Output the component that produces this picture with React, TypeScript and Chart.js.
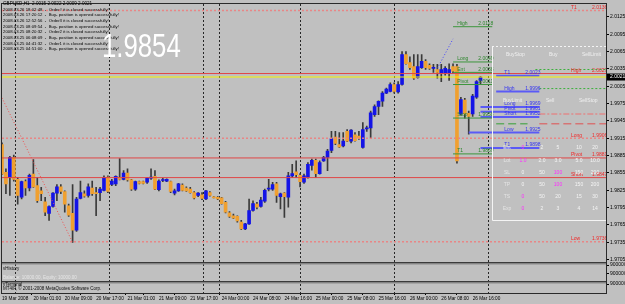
import { useEffect, useRef } from 'react';
import { Chart, registerables } from 'chart.js';

Chart.register(...registerables);
Chart.defaults.font.family = '"Liberation Sans", Arial, sans-serif';

const BG = '#c0c0c0';
const BULL = '#1414e6';
const BEAR = '#f0a030';
const WICK = '#3a3a3a';

// ---------- data ----------
const slotCount = 155; // hourly slots on the x axis (0..154)
const timeLabels = [
  '19 Mar 2008', '20 Mar 01:00', '20 Mar 09:00', '20 Mar 17:00', '21 Mar 01:00', '21 Mar 09:00',
  '21 Mar 17:00', '24 Mar 00:00', '24 Mar 08:00', '24 Mar 16:00', '25 Mar 00:00', '25 Mar 08:00',
  '25 Mar 16:00', '26 Mar 00:00', '26 Mar 08:00', '26 Mar 16:00',
];
const labelEvery = 8;
const daySeparators = [7, 31, 55, 56, 80, 104, 128];
const priceTicks = [2.0125, 2.0095, 2.0065, 2.0035, 2.0005, 1.9975, 1.9945, 1.9915, 1.9885, 1.9855, 1.9825, 1.9795, 1.9765, 1.9735, 1.9705];
const priceMin = 1.96989;
const priceMax = 2.01473;

const opens = [
  1.9904, 1.9856, 1.9847, 1.9882, 1.9844, 1.9813, 1.9840, 1.9829, 1.9853, 1.9833,
  1.9824, 1.9805, 1.9785, 1.9797, 1.9820, 1.9831, 1.9823, 1.9798, 1.9785, 1.9756,
  1.9811, 1.9819, 1.9816, 1.9829, 1.9821, 1.9821, 1.9825, 1.9848, 1.9835, 1.9836,
  1.9847, 1.9844, 1.9855, 1.9843, 1.9827, 1.9840, 1.9840, 1.9839, 1.9846, 1.9849,
  1.9826, 1.9842, 1.9841, 1.9840, 1.9820, 1.9824, 1.9834, 1.9829, 1.9827, 1.9821,
  1.9816, 1.9817, 1.9810, 1.9821, 1.9813, 1.9813, 1.9812, 1.9804, 1.9786, 1.9781,
  1.9780, 1.9770, 1.9758, 1.9767, 1.9790, 1.9801, 1.9797, 1.9806, 1.9827, 1.9827,
  1.9836, 1.9814, 1.9820, 1.9813, 1.9850, 1.9857, 1.9851, 1.9839, 1.9847, 1.9868,
  1.9877, 1.9854, 1.9876, 1.9882, 1.9894, 1.9917, 1.9904, 1.9902, 1.9927, 1.9910,
  1.9921, 1.9919, 1.9899, 1.9931, 1.9933, 1.9956, 1.9970, 1.9979, 1.9993, 1.9996,
  2.0008, 1.9995, 2.0008, 2.0060, 2.0046, 2.0039, 2.0020, 2.0037, 2.0048, 2.0041,
  2.0036, 2.0034, 2.0027, 2.0027, 2.0027, 2.0039, 2.0039, 1.9957, 1.9981, 1.9958,
  1.9957, 1.9986, 2.0015,
];
const highs = [
  1.9907, 1.9862, 1.9884, 1.9886, 1.9847, 1.9841, 1.9843, 1.9853, 1.9878, 1.9847,
  1.9830, 1.9813, 1.9798, 1.9821, 1.9835, 1.9835, 1.9824, 1.9801, 1.9835, 1.9813,
  1.9841, 1.9824, 1.9836, 1.9841, 1.9830, 1.9830, 1.9850, 1.9850, 1.9844, 1.9850,
  1.9880, 1.9859, 1.9862, 1.9844, 1.9841, 1.9841, 1.9841, 1.9847, 1.9862, 1.9859,
  1.9843, 1.9846, 1.9845, 1.9841, 1.9827, 1.9837, 1.9836, 1.9831, 1.9830, 1.9823,
  1.9821, 1.9821, 1.9825, 1.9823, 1.9814, 1.9814, 1.9813, 1.9806, 1.9788, 1.9784,
  1.9781, 1.9773, 1.9768, 1.9810, 1.9807, 1.9804, 1.9813, 1.9827, 1.9844, 1.9839,
  1.9839, 1.9820, 1.9821, 1.9856, 1.9870, 1.9876, 1.9854, 1.9853, 1.9873, 1.9879,
  1.9879, 1.9876, 1.9884, 1.9896, 1.9927, 1.9927, 1.9925, 1.9925, 1.9930, 1.9930,
  1.9925, 1.9927, 1.9942, 1.9936, 1.9962, 1.9973, 1.9980, 1.9996, 2.0002, 2.0011,
  2.0011, 2.0013, 2.0065, 2.0065, 2.0056, 2.0060, 2.0060, 2.0060, 2.0051, 2.0044,
  2.0043, 2.0043, 2.0043, 2.0039, 2.0044, 2.0044, 2.0043, 1.9986, 1.9984, 1.9962,
  1.9991, 2.0015, 2.0022,
];
const lows = [
  1.9852, 1.9819, 1.9816, 1.9841, 1.9801, 1.9810, 1.9816, 1.9824, 1.9830, 1.9804,
  1.9807, 1.9781, 1.9773, 1.9796, 1.9807, 1.9819, 1.9787, 1.9780, 1.9735, 1.9754,
  1.9810, 1.9813, 1.9813, 1.9816, 1.9781, 1.9807, 1.9824, 1.9821, 1.9833, 1.9833,
  1.9843, 1.9843, 1.9841, 1.9825, 1.9825, 1.9836, 1.9836, 1.9837, 1.9844, 1.9826,
  1.9824, 1.9840, 1.9840, 1.9821, 1.9817, 1.9823, 1.9824, 1.9823, 1.9820, 1.9810,
  1.9814, 1.9809, 1.9809, 1.9815, 1.9812, 1.9809, 1.9801, 1.9786, 1.9778, 1.9776,
  1.9770, 1.9757, 1.9757, 1.9766, 1.9789, 1.9793, 1.9796, 1.9804, 1.9824, 1.9825,
  1.9804, 1.9793, 1.9778, 1.9796, 1.9847, 1.9847, 1.9831, 1.9837, 1.9846, 1.9860,
  1.9847, 1.9853, 1.9875, 1.9859, 1.9890, 1.9904, 1.9899, 1.9900, 1.9909, 1.9907,
  1.9910, 1.9913, 1.9898, 1.9927, 1.9915, 1.9953, 1.9956, 1.9970, 1.9992, 1.9995,
  1.9993, 1.9993, 2.0007, 2.0043, 2.0034, 2.0017, 2.0019, 2.0036, 2.0034, 2.0034,
  2.0029, 2.0019, 2.0013, 2.0024, 2.0015, 2.0027, 1.9872, 1.9955, 1.9950, 1.9922,
  1.9953, 1.9984, 2.0009,
];
const closes = [
  1.9853, 1.9836, 1.9882, 1.9844, 1.9816, 1.9840, 1.9829, 1.9851, 1.9831, 1.9807,
  1.9819, 1.9787, 1.9797, 1.9820, 1.9831, 1.9823, 1.9801, 1.9782, 1.9756, 1.9810,
  1.9821, 1.9815, 1.9831, 1.9819, 1.9819, 1.9827, 1.9847, 1.9823, 1.9841, 1.9849,
  1.9844, 1.9855, 1.9843, 1.9827, 1.9840, 1.9837, 1.9837, 1.9846, 1.9848, 1.9827,
  1.9841, 1.9843, 1.9844, 1.9823, 1.9824, 1.9836, 1.9825, 1.9824, 1.9821, 1.9812,
  1.9820, 1.9811, 1.9824, 1.9816, 1.9812, 1.9810, 1.9802, 1.9787, 1.9780, 1.9777,
  1.9772, 1.9758, 1.9767, 1.9790, 1.9802, 1.9796, 1.9808, 1.9825, 1.9828, 1.9835,
  1.9816, 1.9819, 1.9814, 1.9850, 1.9854, 1.9852, 1.9840, 1.9850, 1.9870, 1.9877,
  1.9854, 1.9873, 1.9882, 1.9893, 1.9914, 1.9906, 1.9900, 1.9910, 1.9910, 1.9929,
  1.9911, 1.9915, 1.9930, 1.9933, 1.9959, 1.9970, 1.9979, 1.9993, 2.0000, 2.0008,
  1.9996, 2.0008, 2.0060, 2.0044, 2.0037, 2.0019, 2.0039, 2.0048, 2.0037, 2.0036,
  2.0037, 2.0029, 2.0034, 2.0036, 2.0034, 2.0031, 1.9876, 1.9982, 1.9957, 1.9953,
  1.9988, 2.0013, 2.0021,
];
const bidPrice = 2.0021;

type Level = { name: string; text: string; price: number; from: number; to: number; kind: string };
const mainLevels: Level[] = [
  { name: 'T1', text: '2.0136', price: 2.0136, from: 0, to: 154, kind: 'redDot' },
  { name: 'High', text: '2.0027', price: 2.0027, from: 0, to: 154, kind: 'red' },
  { name: '', text: '', price: bidPrice, from: 0, to: 154, kind: 'bid' },
  { name: 'Long', text: '1.9906', price: 1.9915, from: 0, to: 154, kind: 'redDot' },
  { name: 'Pivot', text: '1.9881', price: 1.9881, from: 0, to: 154, kind: 'red' },
  { name: 'Short', text: '1.9847', price: 1.9847, from: 0, to: 154, kind: 'red' },
  { name: 'Low', text: '1.9736', price: 1.9736, from: 0, to: 154, kind: 'redDot' },
];
const greenLevels: Level[] = [
  { name: 'High', text: '2.0118', price: 2.0108, from: 115, to: 125, kind: 'green' },
  { name: 'Long', text: '2.0049', price: 2.0047, from: 115, to: 125, kind: 'green' },
  { name: 'Ent', text: '2.0038', price: 2.0029, from: 115, to: 125, kind: 'green' },
  { name: 'Pivot', text: '2.0011', price: 2.0008, from: 115, to: 125, kind: 'green' },
  { name: 'Stop', text: '1.9958', price: 1.9950, from: 115, to: 125, kind: 'green' },
  { name: 'T1', text: '1.9869', price: 1.9888, from: 115, to: 125, kind: 'green' },
];
const blueLevels: Level[] = [
  { name: 'T1', text: '2.0023', price: 2.0023, from: 126, to: 137, kind: 'blue' },
  { name: 'High', text: '1.9996', price: 1.9996, from: 126, to: 137, kind: 'blue' },
  { name: 'Long', text: '1.9969', price: 1.9969, from: 122, to: 137, kind: 'blue' },
  { name: 'Pivot', text: '1.9961', price: 1.9961, from: 122, to: 137, kind: 'blue' },
  { name: 'Short', text: '1.9952', price: 1.9952, from: 122, to: 137, kind: 'blue' },
  { name: 'Low', text: '1.9925', price: 1.9925, from: 119, to: 137, kind: 'blue' },
  { name: 'T1', text: '1.9898', price: 1.9898, from: 122, to: 137, kind: 'blue' },
];
const panelLevels: Level[] = [
  { name: '', text: '', price: 2.0034, from: 136, to: 154, kind: 'greenDot' },
  { name: '', text: '', price: 2.0001, from: 137, to: 154, kind: 'greenDot' },
  { name: '', text: '', price: 1.9957, from: 137, to: 154, kind: 'pinkDashDot' },
  { name: '', text: '', price: 1.9940, from: 137, to: 154, kind: 'redDash' },
  { name: '', text: '', price: 1.9940, from: 126, to: 134, kind: 'greenDash' },
];
const tradeLines = [
  { from: 0, fromPrice: 1.9985, to: 18, toPrice: 1.9735, kind: 'redTrade' },
  { from: 111, fromPrice: 2.0036, to: 115, toPrice: 2.0087, kind: 'blueTrade' },
];

const titleText = 'GBPUSD,H1  2.0015 2.0022 2.0009 2.0021';
const logLines = [
  '2008.03.26 18:02:48  -  Order# it is closed successfully!',
  '2008.03.26 17:20:12  -  Buy- position is opened successfully!',
  '2008.03.26 12:52:56  -  Order3 it is closed successfully!',
  '2008.03.25 08:09:54  -  Buy- position is opened successfully!',
  '2008.03.25 08:20:32  -  Order2 it is closed successfully!',
  '2008.03.25 06:08:09  -  Buy- position is opened successfully!',
  '2008.03.25 04:41:32  -  Order1 it is closed successfully!',
  '2008.03.25 04:51:00  -  Buy- position is opened successfully!',
];
const bigLabel = '1.9854';
const panelHeaderTop = ['BuyStop', 'Buy', 'SellLimit'];
const panelHeaderMid = ['BuyLimit', 'Sell', 'SellStop'];
const panelRows = [
  { label: 'Ent', values: ['0', '2', '5', '10', '20'], active: 0 },
  { label: 'Lot', values: ['1.0', '2.0', '3.0', '5.0', '10.0'], active: 0 },
  { label: 'SL', values: ['0', '50', '100', '150', '200'], active: 2 },
  { label: 'TP', values: ['0', '50', '100', '150', '200'], active: 2 },
  { label: 'TS', values: ['0', '50', '20', '15', '30'], active: 0 },
  { label: 'Exp', values: ['0', '2', '3', '4', '14'], active: 0 },
];
const historyTitle = 'vHistory';
const historyText = 'Balance: 10000.00, Equity: 10000.00';
const terminalTitle = 'vTerminal';
const terminalText = 'MT4IP, \u00a9 2001-2008 MetaQuotes Software Corp.';
const subAxisLabel = '900000';

// ---------- styles ----------
const lineStyles: Record<string, { color: string; width: number; dash: number[]; text?: string }> = {
  redDot: { color: 'rgba(236,128,128,0.9)', width: 1.5, dash: [2, 2], text: '#f02828' },
  red: { color: '#e04646', width: 1, dash: [], text: '#f02828' },
  bid: { color: '#f4f400', width: 1, dash: [] },
  green: { color: '#3c963c', width: 1, dash: [], text: '#2c862c' },
  blue: { color: '#5a5af6', width: 2, dash: [], text: '#3434f0' },
  greenDot: { color: '#3cb03c', width: 1, dash: [2, 2] },
  pinkDashDot: { color: '#ee7070', width: 1, dash: [6, 2, 2, 2] },
  redDash: { color: '#e05050', width: 1, dash: [8, 4] },
  greenDash: { color: '#34a034', width: 1, dash: [8, 4] },
  redTrade: { color: '#f05050', width: 1, dash: [1, 2] },
  blueTrade: { color: '#4040ff', width: 1, dash: [1, 2] },
};

const font = (s: number) => `${s}px "Liberation Sans", Arial, sans-serif`;

function txt(ctx: CanvasRenderingContext2D, t: string, x: number, y: number, color: string, size: number, align: CanvasTextAlign = 'left') {
  ctx.fillStyle = color;
  ctx.font = font(size);
  ctx.textAlign = align;
  ctx.textBaseline = 'middle';
  ctx.fillText(t, x, y);
}

const allLevels = [...mainLevels, ...greenLevels, ...blueLevels, ...panelLevels];

const overlayPlugin = {
  id: 'mtOverlay',
  beforeDraw(chart: any) {
    const { ctx, width, height } = chart;
    ctx.save();
    ctx.fillStyle = BG;
    ctx.fillRect(0, 0, width, height);
    ctx.restore();
  },
  afterDraw(chart: any) {
    const { ctx, chartArea } = chart;
    const xs = chart.scales.x;
    const ys = chart.scales.y;
    ctx.save();

    // level labels
    for (const lv of allLevels) {
      const st = lineStyles[lv.kind];
      if (!lv.name || !st.text) continue;
      const xe = xs.getPixelForValue(lv.to);
      const y = ys.getPixelForValue(lv.price) - 3;
      txt(ctx, lv.name, xe - 35, y, st.text, 5);
      txt(ctx, lv.text, xe - 14, y, st.text, 5);
    }

    // sub-window separators
    for (const id of ['yh', 'yt']) {
      const top = Math.round(chart.scales[id].top);
      ctx.fillStyle = '#3a3a3a';
      ctx.fillRect(chartArea.left, top - 1, chartArea.right - chartArea.left, 1.5);
      ctx.fillStyle = '#8a8a8a';
      ctx.fillRect(chartArea.left, top + 0.5, chartArea.right - chartArea.left, 1);
    }

    // frame
    ctx.strokeStyle = '#2a2a2a';
    ctx.lineWidth = 1;
    ctx.strokeRect(Math.round(chartArea.left) - 0.5, Math.round(chartArea.top) - 0.5,
      Math.round(chartArea.right - chartArea.left) + 1, Math.round(chartArea.bottom - chartArea.top) + 1);

    // bid price box on axis
    const by = ys.getPixelForValue(bidPrice);
    ctx.fillStyle = '#000';
    ctx.fillRect(chartArea.right + 1, by - 3.5, 20, 7);
    txt(ctx, bidPrice.toFixed(4), chartArea.right + 4, by, '#fff', 5);

    // title + log
    txt(ctx, titleText, 3, 3.6, '#000', 4.6);
    logLines.forEach((l, i) => txt(ctx, l, 3, 9.4 + i * 5.7, '#000', 4.3));

    // big white number
    ctx.save();
    ctx.translate(102, 57);
    ctx.scale(0.78, 1);
    ctx.fillStyle = '#ffffff';
    ctx.font = font(33);
    ctx.textAlign = 'left';
    ctx.textBaseline = 'alphabetic';
    ctx.fillText(bigLabel, 0, 0);
    ctx.restore();

    // trade panel
    ctx.strokeStyle = '#f4f4f4';
    ctx.lineWidth = 1;
    ctx.setLineDash([2, 2]);
    ctx.beginPath(); ctx.moveTo(492, 46.5); ctx.lineTo(606, 46.5); ctx.stroke();
    ctx.setLineDash([]);
    ctx.beginPath(); ctx.moveTo(492.5, 46); ctx.lineTo(492.5, 220.5); ctx.lineTo(606, 220.5); ctx.stroke();
    const hx = [506, 549, 582];
    panelHeaderTop.forEach((t, i) => txt(ctx, t, hx[i], 55, '#f0f0f0', 5));
    panelHeaderMid.forEach((t, i) => txt(ctx, t, hx[i] - 3, 101, '#f0f0f0', 5));
    const cols = [523, 542, 558, 579, 595];
    panelRows.forEach((r, ri) => {
      const y = 148 + ri * 12.2;
      txt(ctx, r.label, 507, y, '#e4e4e4', 5, 'center');
      r.values.forEach((v, ci) => txt(ctx, v, cols[ci], y, ci === r.active ? '#ff2cff' : '#f4f4f4', 5, 'center'));
    });

    // sub-window texts
    const hTop = chart.scales.yh.top;
    const tTop = chart.scales.yt.top;
    txt(ctx, historyTitle, 3, hTop + 6, '#101010', 4.5);
    txt(ctx, historyText, 3, hTop + 15, '#e6e6e6', 4.5);
    txt(ctx, terminalTitle, 3, tTop + 2.6, '#101010', 4.5);
    txt(ctx, terminalText, 3, tTop + 6.6, '#101010', 4.5);

    ctx.restore();
  },
};

export default function App() {
  const ref = useRef<HTMLCanvasElement | null>(null);

  useEffect(() => {
    const canvas = ref.current;
    if (!canvas) return;

    const wickData = highs.map((h, i) => ({ x: i, y: [lows[i], h] }));
    const bodyData = opens.map((o, i) => ({ x: i, y: [Math.min(o, closes[i]), Math.max(o, closes[i])] }));
    const bodyColors = opens.map((o, i) => (closes[i] >= o ? BULL : BEAR));

    const levelSets = allLevels.map((lv) => {
      const st = lineStyles[lv.kind];
      return {
        type: 'line' as const,
        data: [{ x: lv.from, y: lv.price }, { x: lv.to, y: lv.price }],
        borderColor: st.color,
        borderWidth: st.width,
        borderDash: st.dash,
        pointRadius: 0,
        fill: false,
        order: 1,
      };
    });
    const tradeSets = tradeLines.map((t) => {
      const st = lineStyles[t.kind];
      return {
        type: 'line' as const,
        data: [{ x: t.from, y: t.fromPrice }, { x: t.to, y: t.toPrice }],
        borderColor: st.color,
        borderWidth: st.width,
        borderDash: st.dash,
        pointRadius: 0,
        fill: false,
        order: 0,
      };
    });

    const xTicks = Array.from(new Set([
      ...timeLabels.map((_, i) => i * labelEvery),
      ...daySeparators,
    ])).sort((a, b) => a - b);

    const chart = new Chart(canvas, {
      type: 'bar',
      data: {
        datasets: [
          { type: 'bar', data: wickData as any, backgroundColor: WICK, barThickness: 1, grouped: false, order: 3 },
          { type: 'bar', data: bodyData as any, backgroundColor: bodyColors, barThickness: 3, grouped: false, minBarLength: 1, order: 2 },
          ...(levelSets as any[]),
          ...(tradeSets as any[]),
        ],
      },
      options: {
        animation: false,
        responsive: false,
        devicePixelRatio: 1,
        events: [],
        layout: { padding: { left: 2, top: 2, right: 0, bottom: 0 } },
        plugins: { legend: { display: false }, tooltip: { enabled: false } },
        scales: {
          x: {
            type: 'linear',
            min: 0,
            max: slotCount - 1,
            offset: false,
            afterBuildTicks: (s: any) => { s.ticks = xTicks.map((v) => ({ value: v })); },
            afterFit: (s: any) => { s.height = 11; },
            ticks: {
              autoSkip: false,
              maxRotation: 0,
              minRotation: 0,
              align: 'start',
              padding: 1,
              color: '#000',
              font: { size: 4.7 },
              callback: (v: any) => {
                const n = Number(v);
                return n % labelEvery === 0 && n / labelEvery < timeLabels.length ? timeLabels[n / labelEvery] : '';
              },
            },
            grid: {
              display: true,
              drawOnChartArea: true,
              lineWidth: 1,
              color: (c: any) => (c.tick && daySeparators.includes(c.tick.value) ? '#262626' : 'rgba(0,0,0,0)'),
              tickLength: 2,
              tickColor: (c: any) => (c.tick && c.tick.value % labelEvery === 0 && c.tick.value / labelEvery < timeLabels.length ? '#000' : 'rgba(0,0,0,0)'),
            },
            border: { display: false, dash: [2, 2] },
          },
          y: {
            type: 'linear',
            position: 'right',
            stack: 'win',
            stackWeight: 261,
            min: priceMin,
            max: priceMax,
            afterBuildTicks: (s: any) => { s.ticks = priceTicks.map((v) => ({ value: v })); },
            afterFit: (s: any) => { s.width = 19; },
            ticks: { padding: 1, color: '#000', font: { size: 5 }, callback: (v: any) => Number(v).toFixed(4) },
            grid: { display: true, drawOnChartArea: false, tickLength: 3, tickColor: '#000', color: 'rgba(0,0,0,0)' },
            border: { display: false },
          },
          yh: {
            type: 'linear',
            position: 'right',
            stack: 'win',
            stackWeight: 19,
            min: 0,
            max: 1,
            afterBuildTicks: (s: any) => { s.ticks = [{ value: 0.9 }, { value: 0.45 }]; },
            afterFit: (s: any) => { s.width = 19; },
            ticks: { padding: 1, color: '#000', font: { size: 5 }, callback: () => subAxisLabel },
            grid: { display: true, drawOnChartArea: false, tickLength: 3, tickColor: '#000', color: 'rgba(0,0,0,0)' },
            border: { display: false },
          },
          yt: {
            type: 'linear',
            position: 'right',
            stack: 'win',
            stackWeight: 11,
            min: 0,
            max: 1,
            afterBuildTicks: (s: any) => { s.ticks = [{ value: 0.82 }, { value: 0.1 }]; },
            afterFit: (s: any) => { s.width = 19; },
            ticks: { padding: 1, color: '#000', font: { size: 5 }, callback: () => subAxisLabel },
            grid: { display: true, drawOnChartArea: false, tickLength: 3, tickColor: '#000', color: 'rgba(0,0,0,0)' },
            border: { display: false },
          },
        },
      } as any,
      plugins: [overlayPlugin],
    });

    return () => chart.destroy();
  }, []);

  return (
    <div style={{ position: 'fixed', left: 0, top: 0, width: 625, height: 304, background: BG, overflow: 'hidden' }}>
      <canvas ref={ref} width={625} height={304} style={{ display: 'block', width: 625, height: 304 }} />
    </div>
  );
}
